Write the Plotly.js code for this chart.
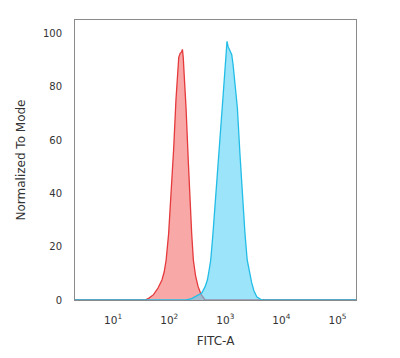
<!DOCTYPE html>
<html>
<head>
<meta charset="utf-8">
<script src="https://cdn.plot.ly/plotly-3.0.1.min.js"></script>
<style>html,body{margin:0;padding:0;background:#fff;}#chart{width:400px;height:358px;}</style>
</head>
<body>
<div id="chart"></div>
<script>
// Red (control) histogram: FITC-A intensity vs normalized count
const redX = [2, 37.2, 43.6, 52.5, 63.1, 74.1, 81.3, 88.1, 97.7, 107.2, 120.2, 131.8, 141.3, 147.9, 156.7, 166, 171.8, 177.8, 184.1, 199.5, 218.8, 234.4, 251.2, 269.2, 295.1, 327.3, 371.5, 436.5, 220000];
const redY = [0, 0, 0.7, 2, 4.5, 7.5, 10.5, 15, 25, 37.5, 57, 75, 88, 91, 92.5, 93, 94, 91, 85, 72, 52, 37.5, 25, 15, 9, 5, 2, 0, 0];
// Blue (stained) histogram
const blueX = [2, 199.5, 251.2, 302, 380.2, 436.5, 478.6, 512.9, 549.5, 602.6, 660.7, 741.3, 831.8, 901.6, 977.2, 1047, 1072, 1122, 1202, 1303, 1380, 1462, 1641, 1820, 2042, 2239, 2455, 2692, 2951, 3236, 3631, 4467, 220000];
const blueY = [0, 0, 0.5, 1.3, 2.6, 5, 7.5, 11, 15, 25, 37.5, 51, 65, 75, 86, 94, 97, 95, 93.5, 92, 88, 82, 72, 55, 37.5, 25, 15, 10, 6.5, 3.5, 1.2, 0, 0];
const yTicks = [0, 20, 40, 60, 80, 100];
const xTicks = [10, 100, 1000, 10000, 100000];
const xTickText = ['10<sup>1</sup>', '10<sup>2</sup>', '10<sup>3</sup>', '10<sup>4</sup>', '10<sup>5</sup>'];

const traces = [
  {x: redX, y: redY, type: 'scatter', mode: 'lines', fill: 'tozeroy',
   line: {color: '#e5393b', width: 1.3},
   fillcolor: 'rgba(245,110,110,0.6)', hoverinfo: 'skip'},
  {x: blueX, y: blueY, type: 'scatter', mode: 'lines', fill: 'tozeroy',
   line: {color: '#22bde6', width: 1.3},
   fillcolor: 'rgba(85,208,247,0.58)', hoverinfo: 'skip'}
];

const layout = {
  width: 400, height: 358,
  margin: {l: 75, r: 44, t: 20, b: 58},
  paper_bgcolor: '#fff', plot_bgcolor: '#fff',
  showlegend: false,
  font: {family: 'DejaVu Sans, sans-serif', color: '#333', size: 10},
  xaxis: {
    type: 'log', range: [0.32, 5.33],
    tickvals: xTicks, ticktext: xTickText,
    showgrid: false, zeroline: false, ticks: '',
    showline: true, mirror: true, linecolor: '#8a8a8a', linewidth: 1,
    ticklabelstandoff: 10,
    tickfont: {size: 10.5, color: '#333'},
    title: {text: 'FITC-A', font: {size: 12, color: '#333'}, standoff: 12}
  },
  yaxis: {
    range: [0, 105],
    tickvals: yTicks,
    showgrid: false, zeroline: false, ticks: '',
    showline: true, mirror: true, linecolor: '#8a8a8a', linewidth: 1,
    ticklabelstandoff: 10,
    tickfont: {size: 10, color: '#333'},
    title: {text: 'Normalized To Mode', font: {size: 12, color: '#333'}, standoff: 14}
  }
};

Plotly.newPlot('chart', traces, layout, {staticPlot: true, displayModeBar: false});
</script>
</body>
</html>
